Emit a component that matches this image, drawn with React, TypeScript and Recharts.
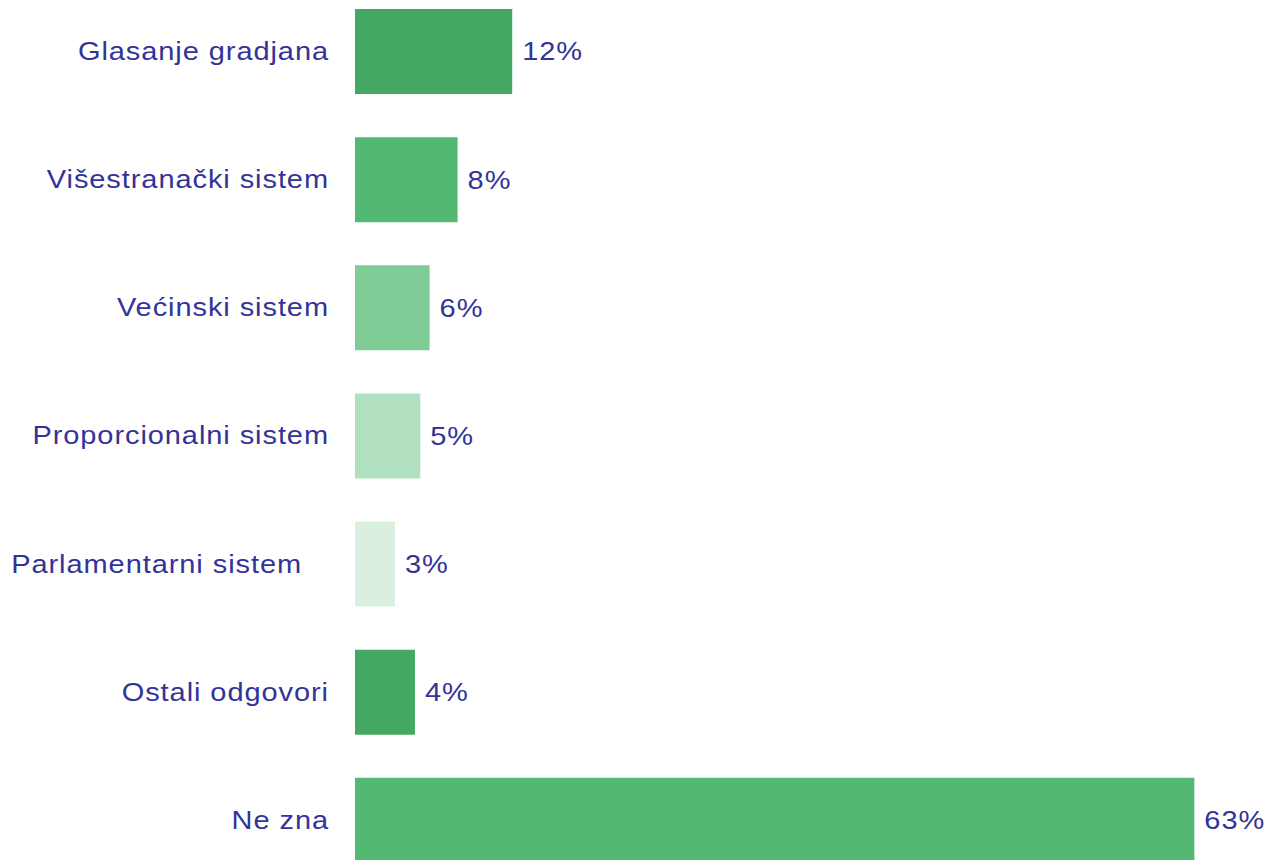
import { BarChart, Bar, XAxis, YAxis, Cell, LabelList } from "recharts";

// answer categories, top to bottom
const categories = [
  "Glasanje gradjana",
  "Višestranački sistem",
  "Većinski sistem",
  "Proporcionalni sistem",
  "Parlamentarni sistem\u00a0\u00a0\u00a0",
  "Ostali odgovori",
  "Ne zna",
];

// share of respondents (%)
const shares = [11.8, 7.7, 5.6, 4.9, 3.0, 4.5, 63.0];

// printed value labels
const valueLabels = ["12%", "8%", "6%", "5%", "3%", "4%", "63%"];

const barColors = [
  "#44a862",
  "#53b972",
  "#80cc96",
  "#b1e0c0",
  "#d9f0e0",
  "#44a862",
  "#53b972",
];

const TEXT_COLOR = "#333399";
const FONT = "'Liberation Sans', Arial, sans-serif";
// the source text is drawn a bit wider than plain Arial
const STRETCH = "scale(1.16,1)";

const textStyle = {
  fill: TEXT_COLOR,
  fontSize: 25,
  fontFamily: FONT,
  letterSpacing: 0.8,
};

function CategoryTick(props: any) {
  const { x, y, payload } = props;
  return (
    <g transform={`translate(${x},${y})`}>
      <text
        transform={STRETCH}
        textAnchor="end"
        dy="0.355em"
        style={{ whiteSpace: "pre" }}
        {...textStyle}
      >
        {payload.value}
      </text>
    </g>
  );
}

function ValueLabel(props: any) {
  const { x, y, width, height, value } = props;
  return (
    <g transform={`translate(${x + width + 10},${y + height / 2})`}>
      <text transform={STRETCH} textAnchor="start" dy="0.355em" {...textStyle}>
        {value}
      </text>
    </g>
  );
}

export default function App() {
  const chartData = categories.map((name, i) => ({
    name,
    value: shares[i],
    label: valueLabels[i],
  }));

  return (
    <div
      style={{
        position: "absolute",
        left: 0,
        top: 0,
        width: 1267,
        height: 860,
        overflow: "hidden",
        background: "#fff",
      }}
    >
      <div style={{ position: "relative", top: -13.5 }}>
        <BarChart
          width={1267}
          height={897}
          data={chartData}
          layout="vertical"
          margin={{ top: 0, right: 46, left: 0, bottom: 0 }}
          barSize={85}
        >
          <XAxis type="number" domain={[0, 65]} hide />
          <YAxis
            type="category"
            dataKey="name"
            width={355}
            axisLine={false}
            tickLine={false}
            tickSize={0}
            tickMargin={26}
            interval={0}
            tick={<CategoryTick />}
          />
          <Bar dataKey="value" isAnimationActive={false}>
            {chartData.map((d, i) => (
              <Cell key={d.name} fill={barColors[i]} />
            ))}
            <LabelList dataKey="label" content={<ValueLabel />} />
          </Bar>
        </BarChart>
      </div>
    </div>
  );
}
